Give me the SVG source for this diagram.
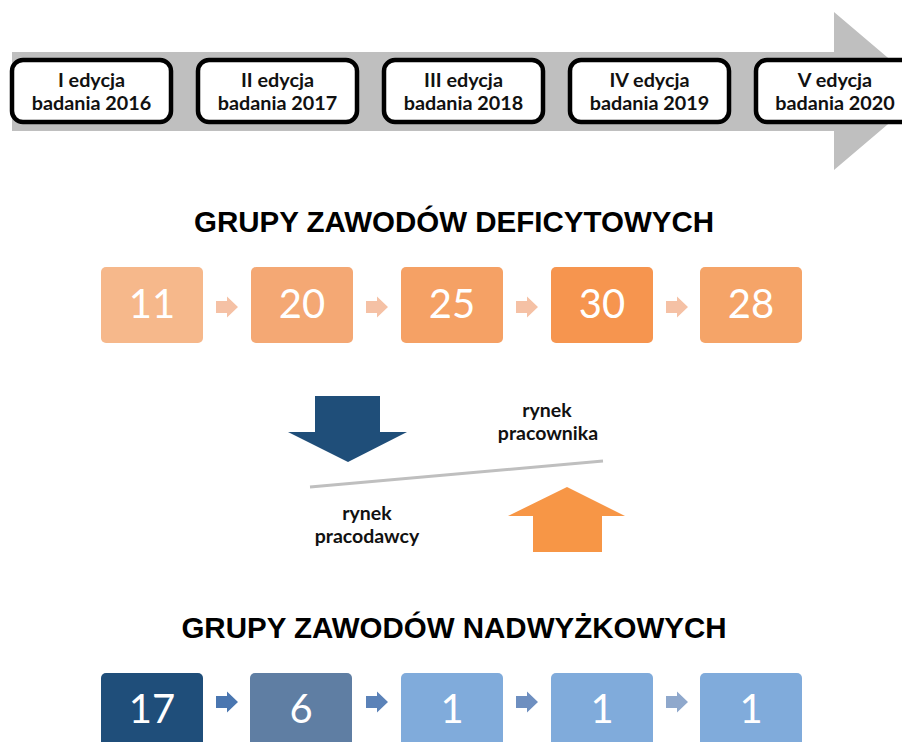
<svg xmlns="http://www.w3.org/2000/svg" xmlns:xlink="http://www.w3.org/1999/xlink" width="902" height="742" viewBox="0 0 902 742">
<style>
.ed{fill:#fff;stroke:#000;stroke-width:4.5}
.edt{font-family:Lato,"Liberation Sans",sans-serif;font-weight:bold;font-size:19.8px;fill:#111;text-anchor:middle}
.ttl{font-family:"Liberation Sans",Arial,sans-serif;font-weight:bold;font-size:29.5px;fill:#000;text-anchor:middle}
.num{font-family:Lato,"Liberation Sans",sans-serif;font-size:40px;fill:#fff;text-anchor:middle}
.lbl{font-family:Lato,"Liberation Sans",sans-serif;font-weight:bold;font-size:19.5px;fill:#111;text-anchor:middle}
</style>
<defs>
<path id="sa" d="M0,-6 H11 V-10.5 L22,0 L11,10.5 V6 H0 Z"/>
</defs>
<rect width="902" height="742" fill="#fff"/>
<g id="timeline">
<path d="M12,52 H834 V12 L927,91 L834,170 V131 H12 Z" fill="#BFBFBF"/>
</g>
<g id="e2016"><rect class="ed" x="12" y="60" width="159" height="62" rx="11"/><text class="edt" x="91.5" y="87">I edycja</text><text class="edt" x="91.5" y="110">badania 2016</text></g>
<g id="e2017"><rect class="ed" x="198" y="60" width="159" height="62" rx="11"/><text class="edt" x="277.5" y="87">II edycja</text><text class="edt" x="277.5" y="110">badania 2017</text></g>
<g id="e2018"><rect class="ed" x="384" y="60" width="159" height="62" rx="11"/><text class="edt" x="463.5" y="87">III edycja</text><text class="edt" x="463.5" y="110">badania 2018</text></g>
<g id="e2019"><rect class="ed" x="570" y="60" width="159" height="62" rx="11"/><text class="edt" x="649.5" y="87">IV edycja</text><text class="edt" x="649.5" y="110">badania 2019</text></g>
<g id="e2020"><rect class="ed" x="756" y="60" width="159" height="62" rx="11"/><text class="edt" x="835" y="87">V edycja</text><text class="edt" x="835" y="110">badania 2020</text></g>

<text class="ttl" x="454" y="232">GRUPY ZAWODÓW DEFICYTOWYCH</text>

<g id="d2016"><rect x="101" y="267" width="102" height="76" rx="5" fill="#F6B88B"/><text class="num" x="152" y="318">11</text></g>
<g id="d2017"><rect x="251" y="267" width="102" height="76" rx="5" fill="#F4A874"/><text class="num" x="302" y="318">20</text></g>
<g id="d2018"><rect x="401" y="267" width="102" height="76" rx="5" fill="#F5A165"/><text class="num" x="452" y="318">25</text></g>
<g id="d2019"><rect x="551" y="267" width="102" height="76" rx="5" fill="#F6954F"/><text class="num" x="602" y="318">30</text></g>
<g id="d2020"><rect x="700" y="267" width="102" height="76" rx="5" fill="#F5A468"/><text class="num" x="751" y="318">28</text></g>

<g id="market">
<path d="M315,396 H380 V432 H407 L348,462 L288,432 H315 Z" fill="#1F4E79"/>
<path d="M533,552 H602 V516 H625 L567,487 L508,516 H533 Z" fill="#F79646"/>
<line x1="310" y1="487" x2="603" y2="461" stroke="#BFBFBF" stroke-width="3"/>
<text class="lbl" x="547" y="417">rynek</text>
<text class="lbl" x="548" y="440">pracownika</text>
<text class="lbl" x="367" y="520">rynek</text>
<text class="lbl" x="367" y="543">pracodawcy</text>
</g>

<text class="ttl" x="454" y="638">GRUPY ZAWODÓW NADWYŻKOWYCH</text>

<g id="n2016"><rect x="101" y="673" width="102" height="80" rx="5" fill="#1F4E7A"/><text class="num" x="152" y="723">17</text></g>
<g id="n2017"><rect x="250" y="673" width="102" height="80" rx="5" fill="#5F7EA3"/><text class="num" x="301" y="723">6</text></g>
<g id="n2018"><rect x="401" y="673" width="102" height="80" rx="5" fill="#80ABDB"/><text class="num" x="452" y="723">1</text></g>
<g id="n2019"><rect x="551" y="673" width="102" height="80" rx="5" fill="#80ABDB"/><text class="num" x="602" y="723">1</text></g>
<g id="n2020"><rect x="700" y="673" width="102" height="80" rx="5" fill="#80ABDB"/><text class="num" x="751" y="723">1</text></g>

<g id="connectors">
<use xlink:href="#sa" x="216" y="307" fill="#F5C1A5"/>
<use xlink:href="#sa" x="366" y="307" fill="#F5C1A5"/>
<use xlink:href="#sa" x="516" y="307" fill="#F5C1A5"/>
<use xlink:href="#sa" x="666" y="307" fill="#F5C1A5"/>
<use xlink:href="#sa" x="216" y="702" fill="#4A76B0"/>
<use xlink:href="#sa" x="366" y="702" fill="#5B82B8"/>
<use xlink:href="#sa" x="516" y="702" fill="#6E8FC0"/>
<use xlink:href="#sa" x="666" y="702" fill="#8FA8CC"/>
</g>
</svg>
